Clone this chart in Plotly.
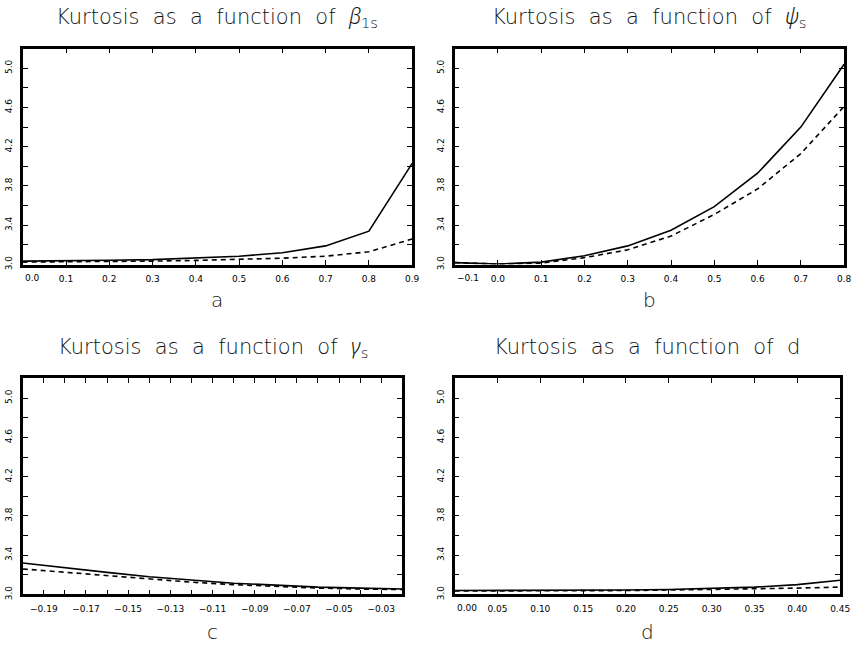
import plotly.graph_objects as go

W, H = 862, 651

# ---- data -------------------------------------------------------------
beta_x = [0.0, 0.1, 0.2, 0.3, 0.4, 0.5, 0.6, 0.7, 0.8, 0.9]
beta_solid = [3.035, 3.037, 3.043, 3.05, 3.065, 3.085, 3.12, 3.19, 3.34, 4.03]
beta_dash = [3.025, 3.027, 3.03, 3.035, 3.042, 3.05, 3.065, 3.085, 3.13, 3.26]

psi_x = [-0.1, 0.0, 0.1, 0.2, 0.3, 0.4, 0.5, 0.6, 0.7, 0.8]
psi_solid = [3.02, 3.005, 3.025, 3.09, 3.19, 3.35, 3.59, 3.93, 4.40, 5.04]
psi_dash = [3.02, 3.005, 3.015, 3.07, 3.15, 3.29, 3.51, 3.77, 4.13, 4.61]

gamma_x = [-0.20, -0.18, -0.16, -0.14, -0.12, -0.10, -0.08, -0.06, -0.04, -0.02]
gamma_solid = [3.32, 3.27, 3.225, 3.18, 3.145, 3.115, 3.095, 3.075, 3.065, 3.055]
gamma_dash = [3.26, 3.225, 3.19, 3.155, 3.125, 3.10, 3.08, 3.065, 3.055, 3.05]

d_x = [0.0, 0.05, 0.10, 0.15, 0.20, 0.25, 0.30, 0.35, 0.40, 0.45]
d_solid = [3.04, 3.04, 3.04, 3.045, 3.045, 3.05, 3.06, 3.075, 3.10, 3.145]
d_dash = [3.035, 3.035, 3.035, 3.04, 3.04, 3.045, 3.05, 3.055, 3.065, 3.075]

GREEK = "<span style=\"font-family:'Noto Sans';font-weight:300;font-style:italic\">{}</span>"
SP = " \u00a0"  # wide word gap
base = SP.join(["Kurtosis", "as", "a", "function", "of", ""])
titles = [base + GREEK.format("β") + "<sub>1s</sub>",
          base + GREEK.format("ψ") + "<sub>s</sub>",
          base + GREEK.format("γ") + "<sub>s</sub>",
          base + "d"]
letters = ["a", "b", "c", "d"]

y_ticks = [3.0, 3.2, 3.4, 3.6, 3.8, 4.0, 4.2, 4.4, 4.6, 4.8, 5.0]
y_labels = ["3.0", "", "3.4", "", "3.8", "", "4.2", "", "4.6", "", "5.0"]

a_ticks = [0.0, 0.1, 0.2, 0.3, 0.4, 0.5, 0.6, 0.7, 0.8, 0.9]
a_labels = ["0.0", "0.1", "0.2", "0.3", "0.4", "0.5", "0.6", "0.7", "0.8", "0.9"]
b_ticks = [-0.1, 0.0, 0.1, 0.2, 0.3, 0.4, 0.5, 0.6, 0.7, 0.8]
b_labels = ["−0.1", "0.0", "0.1", "0.2", "0.3", "0.4", "0.5", "0.6", "0.7", "0.8"]
c_ticks = [-0.19, -0.18, -0.17, -0.16, -0.15, -0.14, -0.13, -0.12, -0.11, -0.10,
           -0.09, -0.08, -0.07, -0.06, -0.05, -0.04, -0.03]
c_labels = ["−0.19", "", "−0.17", "", "−0.15", "", "−0.13", "", "−0.11", "",
            "−0.09", "", "−0.07", "", "−0.05", "", "−0.03"]
d_ticks = [0.0, 0.05, 0.10, 0.15, 0.20, 0.25, 0.30, 0.35, 0.40, 0.45]
d_labels = ["0.00", "0.05", "0.10", "0.15", "0.20", "0.25", "0.30", "0.35", "0.40", "0.45"]

# ---- layout (pixel boxes of each panel: left, right, top, bottom) ----
boxes = [(23, 417, 49, 267), (460, 854, 49, 267),
         (23, 407, 382, 600), (460, 850, 382, 600)]
x_ranges = [[0.0, 0.9], [-0.1, 0.8], [-0.2, -0.02], [0.0, 0.45]]
tick_sets = [(a_ticks, a_labels), (b_ticks, b_labels),
             (c_ticks, c_labels), (d_ticks, d_labels)]
shift_first = [True, True, False, True]
series = [(beta_x, beta_solid, beta_dash), (psi_x, psi_solid, psi_dash),
          (gamma_x, gamma_solid, gamma_dash), (d_x, d_solid, d_dash)]

TICK_FONT = dict(family="DejaVu Sans", size=9, color="black")
TITLE_FONT = dict(family="DejaVu Sans", size=21, color="#111", weight=200)
LETTER_FONT = dict(family="DejaVu Sans", size=20, color="#111", weight=200)

fig = go.Figure()
layout = dict(width=W, height=H, margin=dict(l=0, r=0, t=0, b=0),
              paper_bgcolor="white", plot_bgcolor="white", showlegend=False)
annotations = []

for i in range(4):
    n = "" if i == 0 else str(i + 1)
    xa, ya = "x" + n, "y" + n
    xs, ys, yd = series[i]
    fig.add_trace(go.Scatter(x=xs, y=ys, mode="lines", xaxis=xa, yaxis=ya,
                             line=dict(color="black", width=1.6)))
    fig.add_trace(go.Scatter(x=xs, y=yd, mode="lines", xaxis=xa, yaxis=ya,
                             line=dict(color="black", width=1.6, dash="5px,4px")))
    l, r, t, b = boxes[i]
    ticks, labels = tick_sets[i]
    shown = list(labels)
    if shift_first[i]:
        # the first label is drawn starting at the panel's left edge
        shown[0] = ""
        annotations.append(dict(x=ticks[0], y=1 - (b + 14) / H, xref=xa,
                                yref="paper", yanchor="middle", xanchor="left",
                                text=labels[0], showarrow=False, font=TICK_FONT))
    axis_common = dict(showline=True, linewidth=2.6, linecolor="black",
                       mirror="ticks", ticks="inside", tickwidth=1,
                       ticklen=5, tickcolor="black", showgrid=False,
                       zeroline=False, tickfont=TICK_FONT)
    layout["xaxis" + n] = dict(axis_common, domain=[l / W, r / W],
                               range=x_ranges[i], tickmode="array",
                               tickvals=ticks, ticktext=shown, anchor=ya,
                               ticklabelstandoff=4)
    layout["yaxis" + n] = dict(axis_common, domain=[1 - b / H, 1 - t / H],
                               range=[3.0, 5.2], tickmode="array",
                               tickvals=y_ticks, ticktext=y_labels, anchor=xa,
                               tickangle=-90, ticklabelstandoff=4)
    cx = (l + r) / 2 / W
    ty = 17 if i < 2 else 350
    annotations.append(dict(x=cx, y=1 - ty / H, xref="paper", yref="paper",
                            text=titles[i], showarrow=False, font=TITLE_FONT,
                            xanchor="center", yanchor="middle"))
    ly = 303 if i < 2 else 638
    annotations.append(dict(x=cx, y=1 - ly / H, xref="paper", yref="paper",
                            text=letters[i], showarrow=False, font=LETTER_FONT,
                            xanchor="center", yanchor="middle"))

layout["annotations"] = annotations
fig.update_layout(**layout)
fig.write_html("out.html")
